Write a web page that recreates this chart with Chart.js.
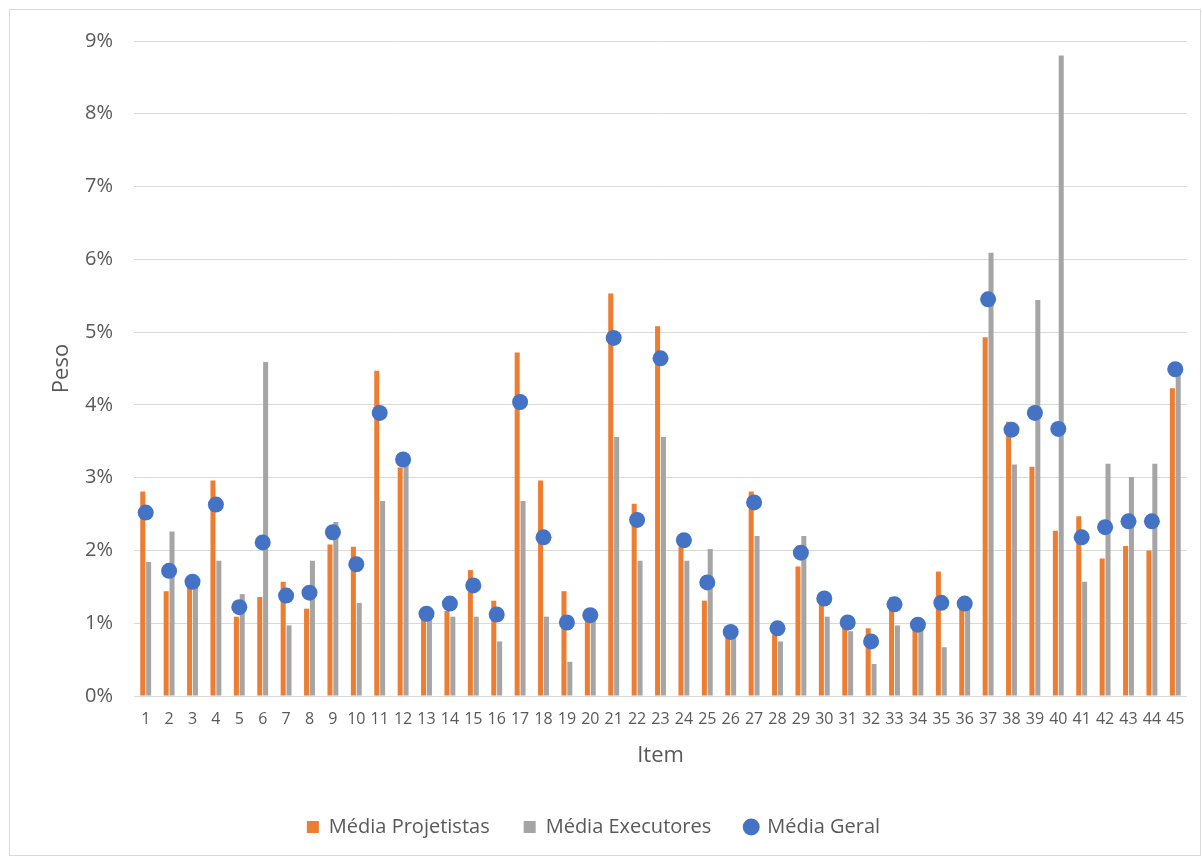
<!DOCTYPE html>
<html>
<head>
<meta charset="utf-8">
<script src="https://cdn.jsdelivr.net/npm/chart.js@4.4.1/dist/chart.umd.min.js"></script>
<style>
    html, body { margin: 0; padding: 0; background: #fff; overflow: hidden; }
    #wrap { position: absolute; left: 0; top: 0; width: 1202px; height: 857px; }
    #frame { position: absolute; left: 9px; top: 9px; width: 1190px; height: 845px;
             border: 1px solid #d9d9d9; pointer-events: none; }
</style>
</head>
<body>
<div id="wrap"><canvas id="pesoChart" width="1202" height="857"></canvas></div>
<div id="frame"></div>
<script>
// Pesos por item (%)
const itens = [];
for (let i = 1; i <= 45; i++) itens.push(String(i));

const mediaProjetistas = [2.81, 1.44, 1.49, 2.96, 1.09, 1.36, 1.57, 1.20, 2.08, 2.05,
    4.47, 3.14, 1.08, 1.17, 1.73, 1.31, 4.72, 2.96, 1.44, 1.05,
    5.53, 2.64, 5.08, 2.05, 1.31, 0.85, 2.81, 0.84, 1.78, 1.31,
    0.94, 0.93, 1.36, 0.92, 1.71, 1.21, 4.93, 3.77, 3.15, 2.27,
    2.47, 1.89, 2.06, 2.00, 4.23];

const mediaExecutores = [1.84, 2.26, 1.60, 1.86, 1.40, 4.59, 0.97, 1.86, 2.39, 1.28,
    2.68, 3.19, 1.08, 1.09, 1.09, 0.75, 2.68, 1.09, 0.47, 1.03,
    3.56, 1.86, 3.56, 1.86, 2.02, 0.85, 2.20, 0.75, 2.20, 1.09,
    0.89, 0.44, 0.97, 1.00, 0.67, 1.21, 6.09, 3.18, 5.44, 8.80,
    1.57, 3.19, 3.01, 3.19, 4.45];

const mediaGeral = [2.52, 1.72, 1.57, 2.63, 1.22, 2.11, 1.38, 1.42, 2.25, 1.81,
    3.89, 3.25, 1.13, 1.27, 1.52, 1.12, 4.04, 2.18, 1.01, 1.11,
    4.92, 2.42, 4.64, 2.14, 1.56, 0.88, 2.66, 0.93, 1.97, 1.34,
    1.01, 0.75, 1.26, 0.98, 1.28, 1.27, 5.45, 3.66, 3.89, 3.67,
    2.18, 2.32, 2.40, 2.40, 4.49];

const yTicks = [0, 1, 2, 3, 4, 5, 6, 7, 8, 9];

const fontFamily = '"Open Sans", "Noto Sans", sans-serif';
const textColor = '#595959';

const ctx = document.getElementById('pesoChart').getContext('2d');

new Chart(ctx, {
    type: 'bar',
    data: {
        labels: itens,
        datasets: [
            {
                label: 'Média Projetistas',
                data: mediaProjetistas,
                backgroundColor: '#ED7D31',
                categoryPercentage: 0.5,
                barPercentage: 0.86,
                pointStyle: 'rect',
                order: 2
            },
            {
                label: 'Média Executores',
                data: mediaExecutores,
                backgroundColor: '#A5A5A5',
                categoryPercentage: 0.5,
                barPercentage: 0.86,
                pointStyle: 'rect',
                order: 3
            },
            {
                type: 'line',
                label: 'Média Geral',
                data: mediaGeral,
                showLine: false,
                backgroundColor: '#4472C4',
                borderColor: '#4472C4',
                pointBackgroundColor: '#4472C4',
                pointBorderWidth: 0,
                pointRadius: 8,
                pointHoverRadius: 8,
                pointStyle: 'circle',
                order: 0
            }
        ]
    },
    options: {
        responsive: false,
        animation: false,
        layout: {
            padding: { left: 0, right: 15, top: 41, bottom: 10 }
        },
        plugins: {
            legend: {
                position: 'bottom',
                labels: {
                    // keep the legend in dataset order, not draw order
                    sort: (a, b) => a.datasetIndex - b.datasetIndex,
                    usePointStyle: true,
                    boxWidth: 12,
                    boxHeight: 12,
                    padding: 34,
                    color: textColor,
                    font: { family: fontFamily, size: 20 }
                }
            },
            tooltip: { enabled: false }
        },
        scales: {
            x: {
                grid: { display: false, drawTicks: false },
                border: { display: false },
                ticks: {
                    color: textColor,
                    font: { family: fontFamily, size: 16 },
                    padding: 14,
                    maxRotation: 0,
                    autoSkip: false
                },
                title: {
                    display: true,
                    text: 'Item',
                    color: textColor,
                    font: { family: fontFamily, size: 22 },
                    padding: { top: 0, bottom: 14 }
                },
                afterFit: function(scale) { scale.height = 87; }
            },
            y: {
                min: 0,
                max: 9,
                afterBuildTicks: function(scale) {
                    scale.ticks = yTicks.map(v => ({ value: v }));
                },
                grid: { color: '#d9d9d9', lineWidth: 1, drawTicks: false },
                border: { display: false },
                ticks: {
                    color: textColor,
                    font: { family: fontFamily, size: 20 },
                    padding: 21,
                    callback: function(v) { return v + '%'; }
                },
                title: {
                    display: true,
                    text: 'Peso',
                    color: textColor,
                    font: { family: fontFamily, size: 22 },
                    padding: { top: 49, bottom: 0 }
                },
                afterFit: function(scale) { scale.width = 134; }
            }
        }
    }
});
</script>
</body>
</html>
